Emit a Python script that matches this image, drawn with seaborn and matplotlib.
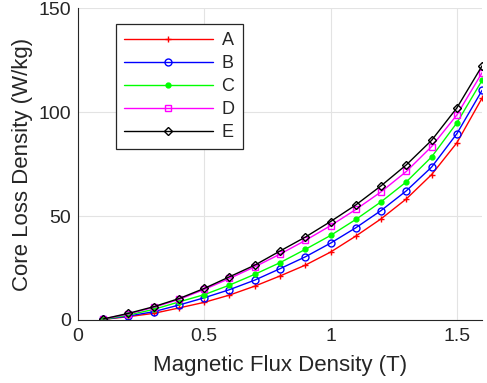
import matplotlib
matplotlib.use("Agg")
import matplotlib.pyplot as plt
import seaborn as sns
import pandas as pd

flux = [0.1, 0.2, 0.3, 0.4, 0.5, 0.6, 0.7, 0.8, 0.9, 1.0, 1.1, 1.2, 1.3, 1.4, 1.5, 1.6]
loss_A = [0.3, 1.6, 3.2, 5.8, 8.5, 12.0, 16.3, 21.2, 26.4, 32.7, 40.4, 48.7, 58.3, 70.0, 85.3, 106.9]
loss_B = [0.3, 1.9, 4.0, 7.2, 10.7, 14.6, 19.2, 24.7, 30.4, 37.0, 44.4, 52.7, 62.2, 73.6, 89.7, 110.6]
loss_C = [0.3, 2.4, 5.1, 8.7, 12.2, 16.8, 22.0, 27.6, 34.0, 40.7, 48.4, 56.9, 66.5, 78.5, 94.9, 115.4]
loss_D = [0.5, 2.9, 6.1, 9.9, 14.7, 20.0, 25.6, 31.7, 38.3, 45.4, 53.2, 61.7, 71.5, 83.5, 98.7, 119.1]
loss_E = [0.5, 3.2, 6.4, 10.3, 15.2, 20.8, 26.4, 33.2, 39.9, 47.4, 55.4, 64.6, 74.7, 86.5, 102.1, 122.4]
series = ["A", "B", "C", "D", "E"]
x_ticks = [0, 0.5, 1, 1.5]
y_ticks = [0, 50, 100, 150]

sns.set_style("whitegrid")
plt.rcParams['font.family'] = ['Liberation Sans', 'DejaVu Sans']

rows = []
for name, vals in zip(series, [loss_A, loss_B, loss_C, loss_D, loss_E]):
    for xv, yv in zip(flux, vals):
        rows.append({"B": xv, "P": yv, "series": name})
df = pd.DataFrame(rows)

colors = {"A": "#ff0000", "B": "#0000ff", "C": "#00ff00", "D": "#ff00ff", "E": "#000000"}
markers = {"A": "+", "B": "o", "C": ".", "D": "s", "E": "D"}
msize = {"A": 5, "B": 5, "C": 7, "D": 5, "E": 4.5}

fig = plt.figure(figsize=(4.87, 3.83), dpi=100)
ax = fig.add_axes([0.160, 0.1645, 0.830, 0.8135])

for name in series:
    sub = df[df["series"] == name]
    filled = name == "C"
    sns.lineplot(data=sub, x="B", y="P", ax=ax, color=colors[name], marker=markers[name],
                 markersize=msize[name], linewidth=1.0, label=name,
                 markerfacecolor=colors[name] if filled else "none",
                 markeredgecolor=colors[name], markeredgewidth=1.0)

ax.set_xlim(0, 1.6)
ax.set_ylim(0, 150)
ax.set_xticks(x_ticks)
ax.set_xticklabels(["0", "0.5", "1", "1.5"])
ax.set_yticks(y_ticks)
ax.grid(True, color="#e3e3e3", linewidth=0.8)
for s in ["top", "right"]:
    ax.spines[s].set_visible(False)
for s in ["left", "bottom"]:
    ax.spines[s].set_color("#262626")
    ax.spines[s].set_linewidth(0.8)
ax.tick_params(axis="both", labelsize=14, colors="#262626", length=0)
ax.tick_params(axis="x", pad=6)
ax.tick_params(axis="y", pad=5)
ax.set_xlabel("Magnetic Flux Density (T)", fontsize=16, color="#262626", labelpad=7)
ax.set_ylabel("Core Loss Density (W/kg)", fontsize=16, color="#262626", labelpad=4)

leg = ax.legend(loc="upper left", bbox_to_anchor=(0.094, 0.949), fontsize=13, frameon=True,
                fancybox=False, edgecolor="#262626", framealpha=1, handlelength=4.9,
                labelspacing=0.33, borderpad=0.45, handletextpad=0.5, borderaxespad=0)
leg.get_frame().set_linewidth(0.9)

fig.savefig("out.png", dpi=100)
